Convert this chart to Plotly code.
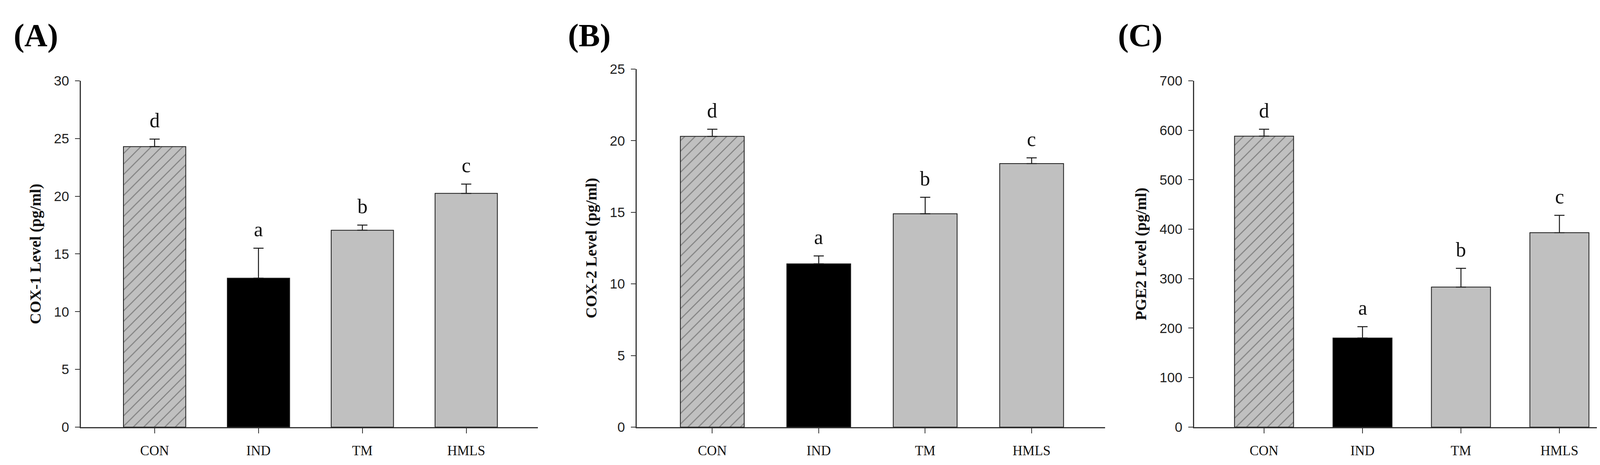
import plotly.graph_objects as go

groups = ["CON", "IND", "TM", "HMLS"]
letters = ["d", "a", "b", "c"]

cox1 = [24.3, 12.9, 17.05, 20.25]
cox1_err = [0.65, 2.6, 0.45, 0.8]

cox2 = [20.3, 11.4, 14.9, 18.4]
cox2_err = [0.5, 0.55, 1.15, 0.4]

pge2 = [588, 180, 283, 393]
pge2_err = [14, 23, 38, 35]

bar_colors = ["#c0c0c0", "#000000", "#c0c0c0", "#c0c0c0"]
hatch = ["/", "", "", ""]

W, H = 4169, 1191
serif = "Liberation Serif, Times New Roman, serif"
narrow = "Liberation Sans Narrow, Arial Narrow, Liberation Sans, Arial, sans-serif"

panels = [
    # values, errors, y title, y max, dtick, x px range, top px, label, label x px
    (cox1, cox1_err, "COX-1 Level (pg/ml)", 30, 5, (199, 1369), 185, "(A)", 25),
    (cox2, cox2_err, "COX-2 Level (pg/ml)", 25, 5, (1622, 2821), 154, "(B)", 1444),
    (pge2, pge2_err, "PGE2 Level (pg/ml)", 700, 100, (3049, 4158), 185, "(C)", 2852),
]
zero_px = 1102

fig = go.Figure()
annotations = []

for i, (vals, errs, ytitle, ymax, dtick, xpx, toppx, lab, labx) in enumerate(panels):
    n = "" if i == 0 else str(i + 1)
    fig.add_trace(go.Bar(
        x=groups, y=vals,
        xaxis="x" + n, yaxis="y" + n,
        width=0.6,
        marker=dict(
            color=bar_colors,
            line=dict(color="#1a1a1a", width=2),
            pattern=dict(shape=hatch, fgcolor="#2a2a2a", size=19, solidity=0.14),
        ),
        error_y=dict(type="data", symmetric=False, array=errs,
                     arrayminus=[0] * len(errs),
                     color="#1a1a1a", thickness=2.5, width=13),
        showlegend=False,
    ))
    xd = [xpx[0] / W, xpx[1] / W]
    yd = [1 - zero_px / H, 1 - toppx / H]
    fig.update_layout(**{
        "xaxis" + n: dict(
            domain=xd, anchor="y" + n, range=[-0.71, 3.69],
            showline=True, linecolor="#333333", linewidth=3,
            ticks="outside", ticklen=13, tickwidth=2, tickcolor="#333333",
            ticklabelstandoff=14,
            tickfont=dict(family=serif, size=35, color="#111111"),
            showgrid=False, zeroline=False, fixedrange=True,
        ),
        "yaxis" + n: dict(
            domain=yd, anchor="x" + n, range=[0, ymax], dtick=dtick,
            showline=True, linecolor="#333333", linewidth=3,
            ticks="outside", ticklen=12, tickwidth=2, tickcolor="#333333",
            ticklabelstandoff=8,
            tickfont=dict(family=narrow, size=35, color="#222222"),
            title=dict(text="<b>" + ytitle + "</b>", standoff=22,
                       font=dict(family=serif, size=40, color="#111111")),
            showgrid=False, zeroline=False, fixedrange=True,
        ),
    })
    # significance letters above error bars
    for g, v, e, t in zip(groups, vals, errs, letters):
        annotations.append(dict(
            x=g, y=v + e, xref="x" + n, yref="y" + n,
            text=t, showarrow=False, yanchor="middle", yshift=48,
            font=dict(family=serif, size=52, color="#111111"),
        ))
    # panel letter
    annotations.append(dict(
        x=labx / W, y=1 - 15 / H, xref="paper", yref="paper",
        xanchor="left", yanchor="top", text="<b>" + lab + "</b>",
        showarrow=False, font=dict(family=serif, size=82, color="#000000"),
    ))

fig.update_layout(
    width=W, height=H,
    margin=dict(l=0, r=0, t=0, b=0),
    paper_bgcolor="white", plot_bgcolor="white",
    bargap=0.4,
    annotations=annotations,
)

fig.write_html("out.html")
